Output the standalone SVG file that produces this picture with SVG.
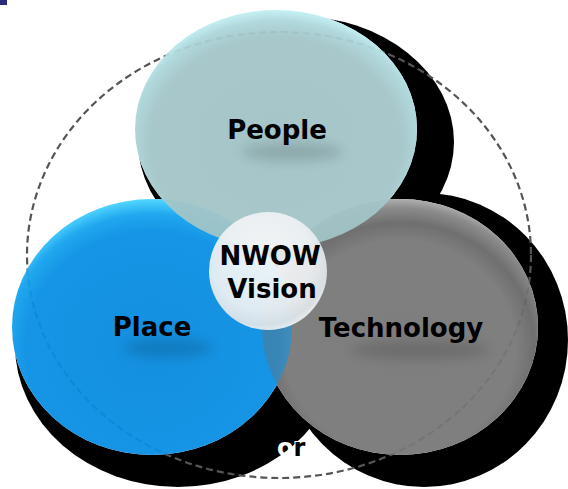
<svg xmlns="http://www.w3.org/2000/svg" width="568" height="489" viewBox="0 0 568 489">
  <defs>
    <radialGradient id="gPlace" cx="50%" cy="58%" r="58%">
      <stop offset="0" stop-color="#0588dc"/>
      <stop offset="0.78" stop-color="#078ee4"/>
      <stop offset="0.9" stop-color="#12a2ee"/>
      <stop offset="1" stop-color="#48d4ff"/>
    </radialGradient>
    <radialGradient id="gTech" cx="50%" cy="58%" r="58%">
      <stop offset="0" stop-color="#767676"/>
      <stop offset="0.72" stop-color="#777777"/>
      <stop offset="0.84" stop-color="#666666"/>
      <stop offset="0.94" stop-color="#848484"/>
      <stop offset="1" stop-color="#aaaaaa"/>
    </radialGradient>
    <radialGradient id="gPeople" cx="50%" cy="56%" r="57%">
      <stop offset="0" stop-color="#9fc1c4"/>
      <stop offset="0.78" stop-color="#a2c4c7"/>
      <stop offset="0.9" stop-color="#acd6da"/>
      <stop offset="1" stop-color="#c6f6fa"/>
    </radialGradient>
    <radialGradient id="gCenter" cx="45%" cy="40%" r="62%">
      <stop offset="0" stop-color="#f8f9fa"/>
      <stop offset="0.7" stop-color="#eef1f3"/>
      <stop offset="0.9" stop-color="#dfe5e9"/>
      <stop offset="1" stop-color="#f4f6f8"/>
    </radialGradient>
    <clipPath id="clipPlace">
      <ellipse cx="152" cy="327" rx="140" ry="128"/>
    </clipPath>
    <filter id="blur" x="-50%" y="-100%" width="200%" height="300%">
      <feGaussianBlur stdDeviation="6"/>
    </filter>
  </defs>
  <style>
    .shadow { fill: #000; }
    .base { fill: #fff; }
    .shape { opacity: 0.94; }
    .label { font-family: "DejaVu Sans", Verdana, sans-serif; font-weight: bold; font-size: 26px; fill: #000; text-anchor: middle; }
    .lshadow { fill: #000; opacity: 0.14; filter: url(#blur); }
    .boundary { fill: none; stroke: #555; stroke-width: 2.2; stroke-dasharray: 7 4; }
  </style>

  <rect x="0" y="0" width="7" height="5" fill="#2b2b7e"/>

  <g id="shadows">
    <ellipse class="shadow" cx="296" cy="142" rx="158" ry="126"/>
    <ellipse class="shadow" cx="178" cy="345" rx="163" ry="142"/>
    <ellipse class="shadow" cx="424" cy="340" rx="144" ry="147"/>
  </g>

  <text x="277" y="456" font-family="DejaVu Sans, sans-serif" font-weight="bold" font-size="24"><tspan fill="#fff">o</tspan><tspan fill="#000" stroke="#fff" stroke-width="2" paint-order="stroke">r</tspan></text>

  <g id="bases">
    <ellipse class="base" cx="152" cy="327" rx="140" ry="128"/>
    <ellipse class="base" cx="400" cy="327" rx="138" ry="128"/>
    <ellipse class="base" cx="276" cy="129" rx="141" ry="119"/>
  </g>

  <g id="connectors">
    <ellipse class="boundary" cx="279" cy="255" rx="252" ry="223"/>
  </g>

  <g id="technology">
    <ellipse class="shape" cx="400" cy="327" rx="138" ry="128" fill="url(#gTech)"/>
    <ellipse class="lshadow" cx="420" cy="350" rx="70" ry="9"/>
    <text class="label" x="401" y="337">Technology</text>
  </g>

  <g id="place">
    <ellipse class="shape" cx="152" cy="327" rx="140" ry="128" fill="url(#gPlace)"/>
    <ellipse class="lshadow" cx="168" cy="348" rx="45" ry="9"/>
    <text class="label" x="152" y="336">Place</text>
  </g>

  <g id="overlap">
    <ellipse cx="400" cy="327" rx="138" ry="128" fill="#7a7a7a" opacity="0.4" clip-path="url(#clipPlace)"/>
  </g>

  <g id="people">
    <ellipse class="shape" cx="276" cy="129" rx="141" ry="119" fill="url(#gPeople)"/>
    <ellipse class="lshadow" cx="292" cy="152" rx="50" ry="9"/>
    <text class="label" x="277" y="139">People</text>
  </g>

  <g id="nwow">
    <circle cx="268" cy="271" r="59" fill="url(#gCenter)" opacity="0.93"/>
    <text class="label" x="270" y="265">NWOW</text>
    <text class="label" x="272" y="298">Vision</text>
  </g>
</svg>
